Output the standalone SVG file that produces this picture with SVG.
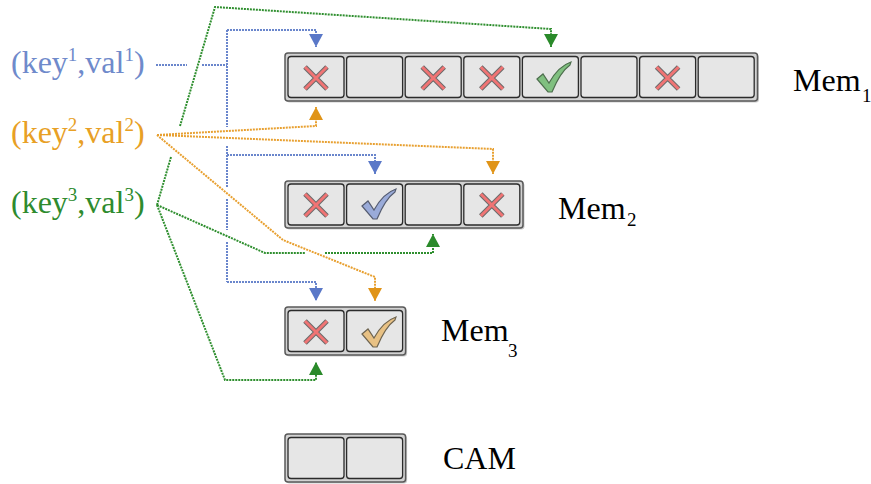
<svg xmlns="http://www.w3.org/2000/svg" xmlns:xlink="http://www.w3.org/1999/xlink" width="871" height="484" viewBox="0 0 871 484">
  <style>
    text { font-family: "Liberation Serif", "DejaVu Serif", serif; font-size: 32px; }
    .sup { font-size: 19px; }
    .frame { fill: #d2d2d2; stroke: #595959; stroke-width: 1.5; }
    .shadow { fill: #9a9a9a; opacity: 0.5; }
    .cell { fill: #e6e6e6; stroke: #2b2b2b; stroke-width: 1.3; }
    .wire { fill: none; stroke-width: 2; stroke-dasharray: 2 1; }
    .blue { stroke: #6a86cc; }
    .orange { stroke: #e8a030; }
    .green { stroke: #2f8f2f; }
  </style>
  <defs>
    <marker id="ahBlue" markerUnits="userSpaceOnUse" markerWidth="14" markerHeight="14" refX="13" refY="7" orient="auto">
      <path d="M0,0 L13,7 L0,14 Z" fill="#5a78c8"/>
    </marker>
    <marker id="ahOrange" markerUnits="userSpaceOnUse" markerWidth="14" markerHeight="14" refX="13" refY="7" orient="auto">
      <path d="M0,0 L13,7 L0,14 Z" fill="#e09418"/>
    </marker>
    <marker id="ahGreen" markerUnits="userSpaceOnUse" markerWidth="14" markerHeight="14" refX="13" refY="7" orient="auto">
      <path d="M0,0 L13,7 L0,14 Z" fill="#2a8a2a"/>
    </marker>
    <!-- red cross mark, centred on origin -->
    <g id="cross">
      <path d="M-11,-11 L11,11 M11,-11 L-11,11" stroke="#6a6a6a" stroke-width="5" fill="none"/>
      <path d="M-11,-11 L11,11 M11,-11 L-11,11" stroke="#f07474" stroke-width="3" fill="none"/>
    </g>
    <!-- tick mark outline, centred on origin -->
    <path id="tick" d="M-17,2 L-11,-3 L-5,6 C1,-5 8,-12 17,-15 L16,-12 C9,-7 3,3 -2,15 L-6,15 Z"/>
  </defs>

  <!-- Mem1: 8 cells -->
  <g id="mem1">
    <rect class="shadow" x="286.5" y="54.5" width="472.5" height="48" rx="3"/>
    <rect class="frame" x="285" y="53" width="472.5" height="48" rx="3"/>
    <rect class="cell" x="288" y="56.5" width="56" height="41" rx="3"/>
    <rect class="cell" x="346.6" y="56.5" width="56" height="41" rx="3"/>
    <rect class="cell" x="405.2" y="56.5" width="56" height="41" rx="3"/>
    <rect class="cell" x="463.8" y="56.5" width="56" height="41" rx="3"/>
    <rect class="cell" x="522.4" y="56.5" width="56" height="41" rx="3"/>
    <rect class="cell" x="581" y="56.5" width="56" height="41" rx="3"/>
    <rect class="cell" x="639.6" y="56.5" width="56" height="41" rx="3"/>
    <rect class="cell" x="698.2" y="56.5" width="56" height="41" rx="3"/>
    <use xlink:href="#cross" x="316" y="78"/>
    <use xlink:href="#cross" x="433.2" y="78"/>
    <use xlink:href="#cross" x="491.8" y="78"/>
    <use xlink:href="#cross" x="667.6" y="78"/>
    <use xlink:href="#tick" x="554" y="77" fill="#80c080" stroke="#4d6e4d" stroke-width="1.2"/>
    <text x="793" y="91" fill="#000">Mem<tspan class="sup" x="862" y="102">1</tspan></text>
  </g>

  <!-- Mem2: 4 cells -->
  <g id="mem2">
    <rect class="shadow" x="286.5" y="182.5" width="238" height="47" rx="3"/>
    <rect class="frame" x="285" y="181" width="238" height="47" rx="3"/>
    <rect class="cell" x="288" y="184" width="56" height="41" rx="3"/>
    <rect class="cell" x="346.6" y="184" width="56" height="41" rx="3"/>
    <rect class="cell" x="405.2" y="184" width="56" height="41" rx="3"/>
    <rect class="cell" x="463.8" y="184" width="56" height="41" rx="3"/>
    <use xlink:href="#cross" x="316" y="205"/>
    <use xlink:href="#cross" x="491.8" y="205"/>
    <use xlink:href="#tick" x="379" y="204" fill="#9aabd9" stroke="#555c70" stroke-width="1.2"/>
    <text x="558" y="219" fill="#000">Mem<tspan class="sup" x="627" y="226">2</tspan></text>
  </g>

  <!-- Mem3: 2 cells -->
  <g id="mem3">
    <rect class="shadow" x="286.5" y="308.5" width="120.6" height="48" rx="3"/>
    <rect class="frame" x="285" y="307" width="120.6" height="48" rx="3"/>
    <rect class="cell" x="288" y="310.5" width="56" height="41" rx="3"/>
    <rect class="cell" x="346.6" y="310.5" width="56" height="41" rx="3"/>
    <use xlink:href="#cross" x="316" y="332"/>
    <use xlink:href="#tick" x="379" y="332" fill="#e8c184" stroke="#6e6450" stroke-width="1.2"/>
    <text x="441" y="341" fill="#000">Mem<tspan class="sup" x="508" y="357">3</tspan></text>
  </g>

  <!-- CAM: 2 empty cells -->
  <g id="cam">
    <rect class="shadow" x="286.5" y="435.5" width="120.6" height="48" rx="3"/>
    <rect class="frame" x="285" y="434" width="120.6" height="48" rx="3"/>
    <rect class="cell" x="288" y="437.5" width="56" height="41" rx="3"/>
    <rect class="cell" x="346.6" y="437.5" width="56" height="41" rx="3"/>
    <text x="443" y="469" fill="#000">CAM</text>
  </g>

  <!-- key/value pairs -->
  <g id="kv1">
    <text x="11" y="73" fill="#6f8acb">(key<tspan class="sup" dy="-12">1</tspan><tspan dy="12">,val</tspan><tspan class="sup" dy="-12">1</tspan><tspan dy="12">)</tspan></text>
  </g>
  <g id="kv2">
    <text x="11" y="143" fill="#e8a025">(key<tspan class="sup" dy="-12">2</tspan><tspan dy="12">,val</tspan><tspan class="sup" dy="-12">2</tspan><tspan dy="12">)</tspan></text>
  </g>
  <g id="kv3">
    <text x="11" y="213" fill="#2e8b2e">(key<tspan class="sup" dy="-12">3</tspan><tspan dy="12">,val</tspan><tspan class="sup" dy="-12">3</tspan><tspan dy="12">)</tspan></text>
  </g>

  <!-- connectors; gaps mark line jumps at crossings -->
  <g id="connectors">
    <!-- key1 feed and bus -->
    <path class="wire blue" d="M156,65 H187 M202,65 H227"/>
    <path class="wire blue" d="M227,30 V127 M227,146 V187 M227,199 V230 M227,242 V282"/>
    <path class="wire blue" d="M227,30 H316 V47" marker-end="url(#ahBlue)"/>
    <path class="wire blue" d="M227,155 H375 V174" marker-end="url(#ahBlue)"/>
    <path class="wire blue" d="M227,282 H316 V301" marker-end="url(#ahBlue)"/>

    <!-- key2 -->
    <path class="wire orange" d="M157,135 L316,126 V107" marker-end="url(#ahOrange)"/>
    <path class="wire orange" d="M157,135 L493,149 V174" marker-end="url(#ahOrange)"/>
    <path class="wire orange" d="M157,135 L283,240 L375,277 V301" marker-end="url(#ahOrange)"/>

    <!-- key3 -->
    <path class="wire green" d="M157,205 L171,157 M180,126 L215,7 L551,29 V47" marker-end="url(#ahGreen)"/>
    <path class="wire green" d="M157,205 L265,253 H305 M325,253 H433 V234" marker-end="url(#ahGreen)"/>
    <path class="wire green" d="M157,205 L225,380 H316 V362" marker-end="url(#ahGreen)"/>
  </g>
</svg>
